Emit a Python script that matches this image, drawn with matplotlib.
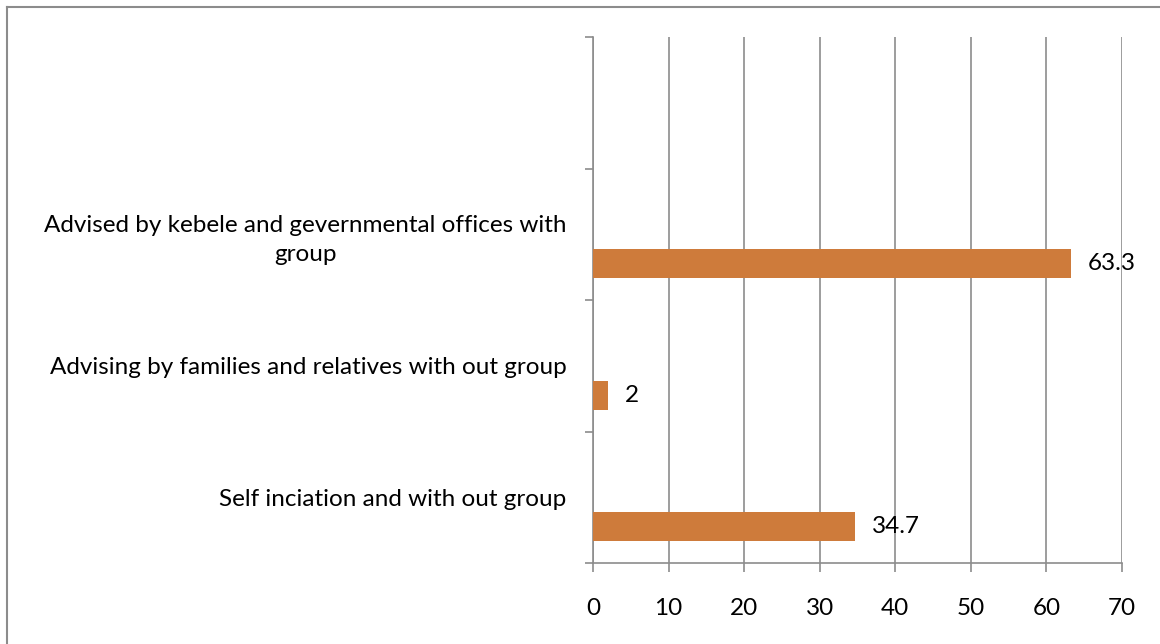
import matplotlib.pyplot as plt
from matplotlib.lines import Line2D

# survey answers, listed from bottom to top
categories = ["Self inciation and with out group",
              "Advising by families and relatives with out group",
              "Advised by kebele and gevernmental offices with\ngroup",
              ""]
percent = [34.7, 2, 63.3, None]
value_labels = ["34.7", "2", "63.3", ""]

bar_col = "#CE7B3B"
grid_col = "#8C8C8C"
fs = 17.5

plt.rcParams['font.family'] = ['Lato', 'DejaVu Sans']

fig = plt.figure(figsize=(11.6, 6.44), dpi=100)
ax = fig.add_axes([593 / 1160, 1 - 563 / 644, (1122 - 593) / 1160, (563 - 37) / 644])

pos = list(range(len(categories)))
for i, v in enumerate(percent):
    if v is None:
        continue
    ax.barh(i - 0.225, v, height=0.22, color=bar_col, zorder=3)
    ax.text(v + 2.2, i - 0.225, value_labels[i], va='center', ha='left',
            fontsize=fs, zorder=4)

ax.set_xlim(0, 70)
ax.set_ylim(-0.5, len(categories) - 0.5)
ax.set_xticks(range(0, 71, 10))
ax.set_yticks(pos)
ax.set_yticklabels(categories, fontsize=fs, multialignment='center', linespacing=1.45)
ax.set_yticks([p - 0.5 for p in range(len(categories) + 1)], minor=True)

ax.tick_params(axis='y', which='major', length=0, pad=19)
ax.tick_params(axis='y', which='minor', length=6, width=1.2, color=grid_col, direction='out')
ax.tick_params(axis='x', length=6.5, width=1.2, color=grid_col, pad=19, labelsize=fs)

ax.grid(axis='x', color=grid_col, lw=1.2, zorder=0)
for s in ['top', 'right']:
    ax.spines[s].set_visible(False)
for s in ['left', 'bottom']:
    ax.spines[s].set_color(grid_col)
    ax.spines[s].set_linewidth(1.2)

# outer chart border (top and left edges)
fig.add_artist(Line2D([7 / 1160, 1], [1 - 7 / 644, 1 - 7 / 644], color=grid_col, lw=1.5))
fig.add_artist(Line2D([7 / 1160, 7 / 1160], [0, 1 - 7 / 644], color=grid_col, lw=1.5))

fig.savefig("out.png", dpi=100)
